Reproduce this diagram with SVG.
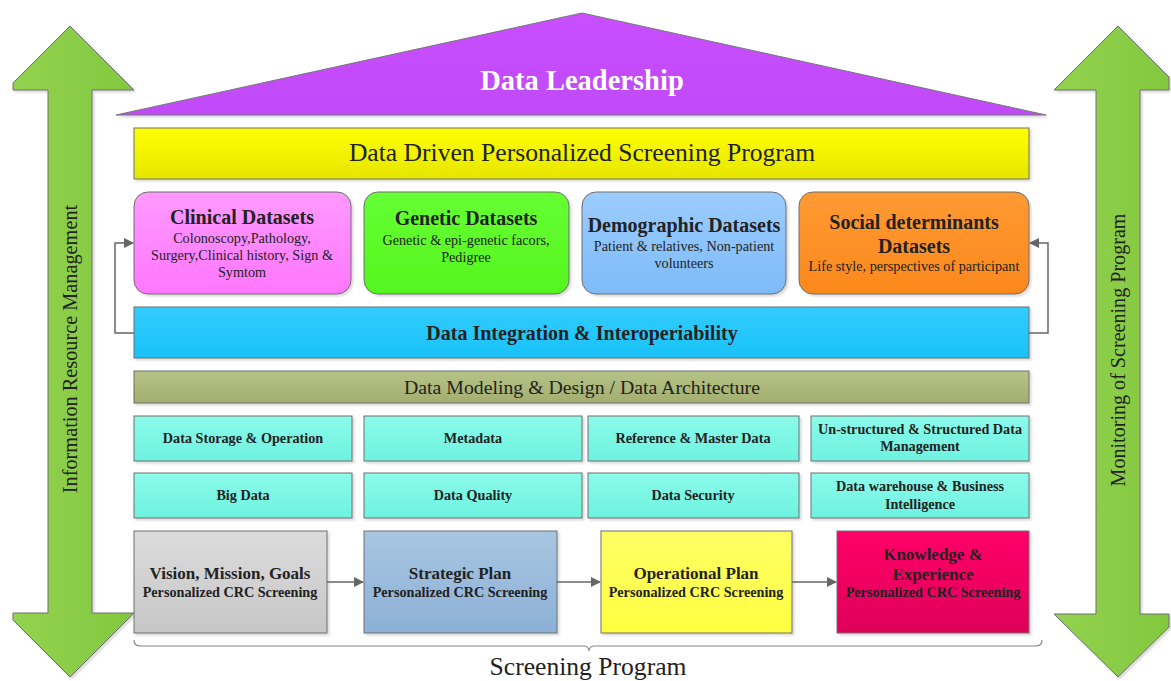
<svg xmlns="http://www.w3.org/2000/svg" width="1171" height="681" viewBox="0 0 1171 681">
  <defs>
    <linearGradient id="gArrow" x1="0" y1="0" x2="1" y2="0">
      <stop offset="0" stop-color="#93d250"/>
      <stop offset="1" stop-color="#82c83e"/>
    </linearGradient>
    <linearGradient id="gRoof" x1="0" y1="0" x2="0" y2="1">
      <stop offset="0" stop-color="#c84fff"/>
      <stop offset="1" stop-color="#c04af8"/>
    </linearGradient>
    <linearGradient id="gYellow" x1="0" y1="0" x2="0" y2="1">
      <stop offset="0" stop-color="#ffff00"/>
      <stop offset="1" stop-color="#e6e600"/>
    </linearGradient>
    <linearGradient id="gPink" x1="0" y1="0" x2="0" y2="1">
      <stop offset="0" stop-color="#ff99ff"/>
      <stop offset="1" stop-color="#ff77ff"/>
    </linearGradient>
    <linearGradient id="gGreen" x1="0" y1="0" x2="0" y2="1">
      <stop offset="0" stop-color="#66ff33"/>
      <stop offset="1" stop-color="#55f51f"/>
    </linearGradient>
    <linearGradient id="gBlue" x1="0" y1="0" x2="0" y2="1">
      <stop offset="0" stop-color="#9cccff"/>
      <stop offset="1" stop-color="#7dbbf8"/>
    </linearGradient>
    <linearGradient id="gOrange" x1="0" y1="0" x2="0" y2="1">
      <stop offset="0" stop-color="#ff9a33"/>
      <stop offset="1" stop-color="#fb881c"/>
    </linearGradient>
    <linearGradient id="gCyan" x1="0" y1="0" x2="0" y2="1">
      <stop offset="0" stop-color="#33ccff"/>
      <stop offset="1" stop-color="#19c2f8"/>
    </linearGradient>
    <linearGradient id="gOlive" x1="0" y1="0" x2="0" y2="1">
      <stop offset="0" stop-color="#b6c388"/>
      <stop offset="1" stop-color="#a3ae6e"/>
    </linearGradient>
    <linearGradient id="gAqua" x1="0" y1="0" x2="0" y2="1">
      <stop offset="0" stop-color="#8cfbea"/>
      <stop offset="1" stop-color="#6ef2e0"/>
    </linearGradient>
    <linearGradient id="gGray" x1="0" y1="0" x2="0" y2="1">
      <stop offset="0" stop-color="#dcdcdc"/>
      <stop offset="1" stop-color="#c6c6c6"/>
    </linearGradient>
    <linearGradient id="gSteel" x1="0" y1="0" x2="0" y2="1">
      <stop offset="0" stop-color="#a8c6e2"/>
      <stop offset="1" stop-color="#8cb0d6"/>
    </linearGradient>
    <linearGradient id="gLemon" x1="0" y1="0" x2="0" y2="1">
      <stop offset="0" stop-color="#ffff66"/>
      <stop offset="1" stop-color="#ffff40"/>
    </linearGradient>
    <linearGradient id="gCrimson" x1="0" y1="0" x2="0" y2="1">
      <stop offset="0" stop-color="#ff0068"/>
      <stop offset="1" stop-color="#df0059"/>
    </linearGradient>
    <filter id="shadow" x="-5%" y="-10%" width="110%" height="130%">
      <feDropShadow dx="2" dy="2" stdDeviation="1" flood-color="#000" flood-opacity="0.15"/>
    </filter>
    <marker id="arrow" viewBox="0 0 10 10" refX="9" refY="5" markerWidth="10" markerHeight="10" markerUnits="userSpaceOnUse" orient="auto">
      <path d="M0,0 L10,5 L0,10 z" fill="#666"/>
    </marker>
  </defs>
  <style>
    .box { stroke: #6e6e6e; stroke-width: 1; filter: url(#shadow); }
    .bigarrow { fill: url(#gArrow); stroke: #6e6e6e; stroke-width: 1; filter: url(#shadow); }
    .t { font-family: 'Liberation Serif', 'Times New Roman', Times, serif; fill: #222; text-anchor: middle; }
    .b { font-weight: bold; }
    .title { font-size: 20px; font-weight: bold; }
    .sub { font-size: 14.2px; }
    .cell { font-size: 14.2px; font-weight: bold; }
    .step { font-size: 17px; font-weight: bold; }
    .conn { fill: none; stroke: #666; stroke-width: 1.5; }
  </style>

  <!-- side arrows -->
  <g id="left-arrow">
    <path class="bigarrow" d="M70,26 L134,90 L92,90 L92,613 L134,613 L70,677 L13,620 L13,613 L48,613 L48,90 L13,90 L13,83 Z"/>
    <text class="t" font-size="20.3" transform="translate(77,349) rotate(-90)">Information Resource Management</text>
  </g>
  <g id="right-arrow">
    <path class="bigarrow" d="M1118,26 L1169,77 L1169,90 L1140,90 L1140,614 L1169,614 L1169,627 L1118,677 L1054,614 L1096,614 L1096,90 L1054,90 Z"/>
    <text class="t" font-size="20.1" transform="translate(1125,350) rotate(-90)">Monitoring of Screening Program</text>
  </g>

  <!-- roof -->
  <g id="roof">
    <path d="M116,115 L582,13 L1046,115 Z" fill="url(#gRoof)" stroke="#777" stroke-width="1" filter="url(#shadow)"/>
    <text class="t b" x="582" y="90" font-size="28.5" style="fill:#fff">Data Leadership</text>
  </g>

  <g id="program">
    <rect class="box" x="134" y="128" width="895" height="51" fill="url(#gYellow)"/>
    <text class="t" x="582" y="161" font-size="25.6">Data Driven Personalized Screening Program</text>
  </g>

  <!-- datasets -->
  <g id="clinical">
    <rect class="box" x="134" y="192" width="217" height="102" rx="14" fill="url(#gPink)"/>
    <text class="t title" x="242" y="224">Clinical Datasets</text>
    <text class="t sub" x="242" y="243">Colonoscopy,Pathology,</text>
    <text class="t sub" x="242" y="260">Surgery,Clinical history, Sign &amp;</text>
    <text class="t sub" x="242" y="277">Symtom</text>
  </g>
  <g id="genetic">
    <rect class="box" x="364" y="192" width="205" height="102" rx="14" fill="url(#gGreen)"/>
    <text class="t title" x="466" y="225">Genetic Datasets</text>
    <text class="t sub" x="466" y="245">Genetic &amp; epi-genetic facors,</text>
    <text class="t sub" x="466" y="262">Pedigree</text>
  </g>
  <g id="demographic">
    <rect class="box" x="582" y="192" width="204" height="102" rx="14" fill="url(#gBlue)"/>
    <text class="t title" x="684" y="232">Demographic Datasets</text>
    <text class="t sub" x="684" y="251">Patient &amp; relatives, Non-patient</text>
    <text class="t sub" x="684" y="268">volunteers</text>
  </g>
  <g id="social">
    <rect class="box" x="799" y="192" width="230" height="102" rx="14" fill="url(#gOrange)"/>
    <text class="t title" x="914" y="229">Social determinants</text>
    <text class="t title" x="914" y="253">Datasets</text>
    <text class="t sub" x="914" y="271">Life style, perspectives of participant</text>
  </g>

  <g id="integration">
    <rect class="box" x="134" y="307" width="895" height="51" fill="url(#gCyan)"/>
    <text class="t title" x="582" y="340">Data Integration &amp; Interoperiability</text>
  </g>

  <g id="modeling">
    <rect class="box" x="134" y="371" width="895" height="32" fill="url(#gOlive)"/>
    <text class="t" x="582" y="394" font-size="19.8">Data Modeling &amp; Design / Data Architecture</text>
  </g>

  <!-- knowledge areas -->
  <g id="storage">
    <rect class="box" x="134" y="416" width="218" height="45" fill="url(#gAqua)"/>
    <text class="t cell" x="243" y="443">Data Storage &amp; Operation</text>
  </g>
  <g id="metadata">
    <rect class="box" x="364" y="416" width="218" height="45" fill="url(#gAqua)"/>
    <text class="t cell" x="473" y="443">Metadata</text>
  </g>
  <g id="reference">
    <rect class="box" x="588" y="416" width="211" height="45" fill="url(#gAqua)"/>
    <text class="t cell" x="693" y="443">Reference &amp; Master Data</text>
  </g>
  <g id="unstructured">
    <rect class="box" x="811" y="416" width="218" height="45" fill="url(#gAqua)"/>
    <text class="t cell" x="920" y="434">Un-structured &amp; Structured Data</text>
    <text class="t cell" x="920" y="451">Management</text>
  </g>
  <g id="bigdata">
    <rect class="box" x="134" y="473" width="218" height="45" fill="url(#gAqua)"/>
    <text class="t cell" x="243" y="500">Big Data</text>
  </g>
  <g id="quality">
    <rect class="box" x="364" y="473" width="218" height="45" fill="url(#gAqua)"/>
    <text class="t cell" x="473" y="500">Data Quality</text>
  </g>
  <g id="security">
    <rect class="box" x="588" y="473" width="211" height="45" fill="url(#gAqua)"/>
    <text class="t cell" x="693" y="500">Data Security</text>
  </g>
  <g id="warehouse">
    <rect class="box" x="811" y="473" width="218" height="45" fill="url(#gAqua)"/>
    <text class="t cell" x="920" y="491">Data warehouse &amp; Business</text>
    <text class="t cell" x="920" y="509">Intelligence</text>
  </g>

  <!-- screening steps -->
  <g id="vision">
    <rect class="box" x="134" y="531" width="193" height="102" fill="url(#gGray)"/>
    <text class="t step" x="230" y="579">Vision, Mission, Goals</text>
    <text class="t cell" x="230" y="597">Personalized CRC Screening</text>
  </g>
  <g id="strategic">
    <rect class="box" x="364" y="531" width="193" height="102" fill="url(#gSteel)"/>
    <text class="t step" x="460" y="579">Strategic Plan</text>
    <text class="t cell" x="460" y="597">Personalized CRC Screening</text>
  </g>
  <g id="operational">
    <rect class="box" x="601" y="531" width="191" height="102" fill="url(#gLemon)"/>
    <text class="t step" x="696" y="579">Operational Plan</text>
    <text class="t cell" x="696" y="597">Personalized CRC Screening</text>
  </g>
  <g id="knowledge">
    <rect class="box" x="837" y="531" width="192" height="102" fill="url(#gCrimson)"/>
    <text class="t step" x="933" y="560">Knowledge &amp;</text>
    <text class="t step" x="933" y="580">Experience</text>
    <text class="t cell" x="933" y="597">Personalized CRC Screening</text>
  </g>

  <!-- connectors -->
  <g id="connectors">
    <path class="conn" d="M134,333 L115,333 L115,243 L133,243" marker-end="url(#arrow)"/>
    <path class="conn" d="M1029,333 L1048,333 L1048,243 L1030,243" marker-end="url(#arrow)"/>
    <path class="conn" d="M327,582 L363,582" marker-end="url(#arrow)"/>
    <path class="conn" d="M557,582 L600,582" marker-end="url(#arrow)"/>
    <path class="conn" d="M792,582 L836,582" marker-end="url(#arrow)"/>
  </g>

  <!-- brace under the steps -->
  <g id="screening-program">
    <path d="M134,640 Q134,646 140,646 L583,646 Q589,646 589,651 Q589,646 595,646 L1036,646 Q1042,646 1042,640" fill="none" stroke="#888" stroke-width="1.2"/>
    <text class="t" x="588" y="675" font-size="25.6">Screening Program</text>
  </g>
</svg>
